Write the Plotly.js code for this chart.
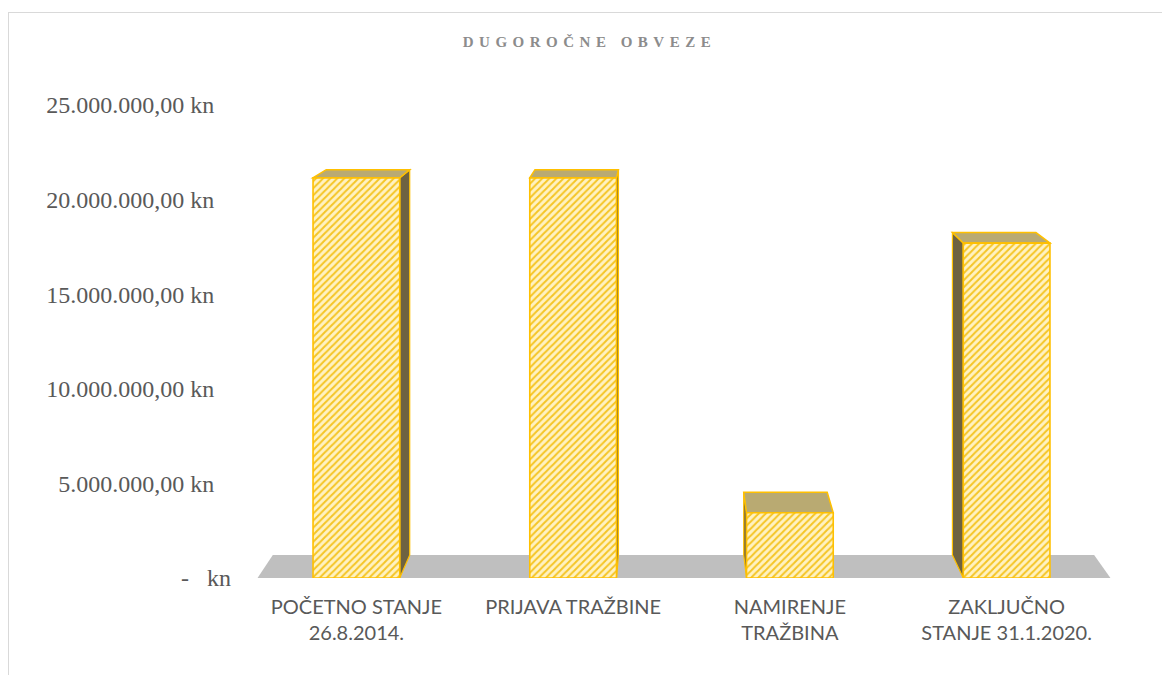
<!DOCTYPE html>
<html><head><meta charset="utf-8">
<script src="https://cdn.plot.ly/plotly-3.0.1.min.js"></script>
<style>
html,body{margin:0;padding:0;background:#fff;overflow:hidden}
#frame{position:absolute;left:8px;top:12px;width:1200px;height:700px;border-left:1px solid #d9d9d9;border-top:1px solid #d9d9d9;box-sizing:border-box}
#chart{position:absolute;left:0;top:0;width:1162px;height:675px}
.gtitle{letter-spacing:5.5px}
</style></head><body>
<div id="frame"></div><div id="chart"></div>
<script>
// ---- data ----
const categories = ["POČETNO STANJE<br>26.8.2014.", "PRIJAVA TRAŽBINE", "NAMIRENJE<br>TRAŽBINA", "ZAKLJUČNO<br>STANJE 31.1.2020."];
const values = [21150000, 21150000, 3450000, 17700000];
const yTickVals = [0, 5000000, 10000000, 15000000, 20000000, 25000000];
const yTickText = ["-\u00a0\u00a0\u00a0kn", "5.000.000,00 kn\u2002\u2009", "10.000.000,00 kn\u2002\u2009", "15.000.000,00 kn\u2002\u2009", "20.000.000,00 kn\u2002\u2009", "25.000.000,00 kn\u2002\u2009"];
const chartTitle = "DUGOROČNE OBVEZE";

// ---- 3D look (style) ----
const BAR_W = 0.4;
const VX = 1.447, VY = 32.8e6, K = 0.963; // perspective centre & depth ratio
const proj = (x, y) => [VX + (x - VX) * K, VY + (y - VY) * K];
const pathOf = pts => 'M ' + pts.map(p => p[0] + ',' + p[1]).join(' L ') + ' Z';

const xIdx = categories.map((_, i) => i);
const shapes = [];
// floor
const fl = -0.456, fr = 3.479;
shapes.push({type:'path', xref:'x', yref:'y', layer:'below',
  path: pathOf([[fl,0],[fr,0],proj(fr,0),proj(fl,0)]),
  fillcolor:'#bfbfbf', line:{width:0}});
values.forEach((v, i) => {
  const xl = i - BAR_W/2, xr = i + BAR_W/2;
  if (xr < VX) {
    shapes.push({type:'path', xref:'x', yref:'y', layer:'below',
      path: pathOf([[xr,0],[xr,v],proj(xr,v),proj(xr,0)]),
      fillcolor:'#6e6241', line:{color:'#ffc000', width:1.2}});
  }
  if (xl > VX) {
    shapes.push({type:'path', xref:'x', yref:'y', layer:'below',
      path: pathOf([[xl,0],[xl,v],proj(xl,v),proj(xl,0)]),
      fillcolor:'#6e6241', line:{color:'#ffc000', width:1.2}});
  }
  shapes.push({type:'path', xref:'x', yref:'y', layer:'below',
    path: pathOf([[xl,v],[xr,v],proj(xr,v),proj(xl,v)]),
    fillcolor:'#b9aa72', line:{color:'#ffc000', width:1.5}});
});

const trace = {
  type:'bar', x:xIdx, y:values, width:BAR_W,
  marker:{color:'#fff3c4',
    pattern:{shape:'/', fgcolor:'#f5c525', bgcolor:'#fff2c2', size:5, solidity:0.4, fillmode:'replace'},
    line:{color:'#ffc000', width:1.6}},
  hoverinfo:'skip'
};

const layout = {
  width:1162, height:675,
  paper_bgcolor:'rgba(0,0,0,0)', plot_bgcolor:'rgba(0,0,0,0)',
  margin:{l:248, r:47, t:105, b:97},
  showlegend:false,
  title:{text:chartTitle, x:0.5073, xref:'container', xanchor:'center', y:0.9385, yref:'container', yanchor:'middle',
    font:{family:'Liberation Serif', size:15, color:'#8c8c8c', weight:'bold'}},
  xaxis:{range:[-0.5,3.5], tickvals:xIdx, ticktext:categories, showgrid:false, zeroline:false, showline:false, ticks:'',
    ticklabelstandoff:15, tickfont:{family:'Lato', size:20, color:'#595959'}, fixedrange:true},
  yaxis:{range:[0,25000000], tickvals:yTickVals, ticktext:yTickText, showgrid:false, zeroline:false, showline:false, ticks:'',
    ticklabelstandoff:16, tickfont:{family:'Liberation Serif', size:24, color:'#595959'}, fixedrange:true},
  shapes:shapes
};
Plotly.newPlot('chart', [trace], layout, {staticPlot:true});
</script>
</body></html>
